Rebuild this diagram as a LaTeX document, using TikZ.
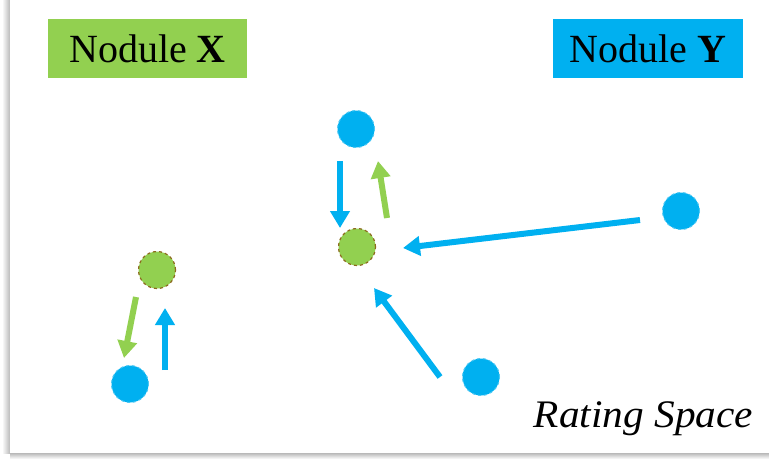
\documentclass[tikz,border=0pt]{standalone}
\usepackage{fontspec}
\setmainfont{Liberation Serif}
\usetikzlibrary{arrows.meta}
\definecolor{cblue}{HTML}{00B0F0}
\definecolor{cgreen}{HTML}{92D050}
\definecolor{cbrown}{HTML}{8C6A1E}
\tikzset{
  label box/.style={rectangle, inner sep=0pt, minimum height=59pt, font=\fontsize{40}{44}\selectfont, text=black},
  bdot/.style={circle, minimum size=37pt, inner sep=0pt, fill=cblue, draw=cblue!70!white, dashed, line width=1pt},
  gdot/.style={circle, minimum size=37pt, inner sep=0pt, fill=cgreen, draw=cbrown, dashed, line width=1.2pt},
  barrow/.style={draw=cblue, line width=6pt, -{Triangle[width=19pt,length=17pt]}},
  garrow/.style={draw=cgreen, line width=6pt, -{Triangle[width=19pt,length=17pt]}},
}
\begin{document}
\begin{tikzpicture}[x=1pt,y=-1pt]
\useasboundingbox (0,0) rectangle (769,459);
\fill[white] (0,0) rectangle (769,459);
% page shadow
\shade[left color=white, right color=gray!55] (2,0) rectangle (10,453);
\shade[top color=gray!55, bottom color=white] (10,453) rectangle (769,459);
\fill[white] (10,0) rectangle (769,453);

% labels
\node[label box, fill=cgreen, minimum width=199pt] (nx) at (147.5,48.5) {Nodule \textbf{X}};
\node[label box, fill=cblue, minimum width=190pt] (ny) at (648,48.5) {Nodule \textbf{Y}};
\node[anchor=base east, font=\fontsize{39}{42}\selectfont\itshape, xscale=1.06] (rs) at (757,427) {Rating Space};

% dots
\node[bdot] (b1) at (356,129) {};
\node[gdot] (g1) at (357,247) {};
\node[bdot] (b2) at (681,211) {};
\node[bdot] (b3) at (481,377) {};
\node[gdot] (g2) at (157,270) {};
\node[bdot] (b4) at (130,384) {};

% arrow end points
\coordinate (a1s) at (340,161);
\coordinate (a1e) at (340,228);
\coordinate (a2s) at (387,218);
\coordinate (a2e) at (378,161);
\coordinate (a3s) at (640,220);
\coordinate (a3e) at (403,248);
\coordinate (a4s) at (440,377);
\coordinate (a4e) at (374,288);
\coordinate (a5s) at (136,297);
\coordinate (a5e) at (124,358);
\coordinate (a6s) at (165,370);
\coordinate (a6e) at (165,308);

\draw[barrow] (a1s) -- (a1e);
\draw[garrow] (a2s) -- (a2e);
\draw[barrow] (a3s) -- (a3e);
\draw[barrow] (a4s) -- (a4e);
\draw[garrow] (a5s) -- (a5e);
\draw[barrow] (a6s) -- (a6e);
\end{tikzpicture}
\end{document}
